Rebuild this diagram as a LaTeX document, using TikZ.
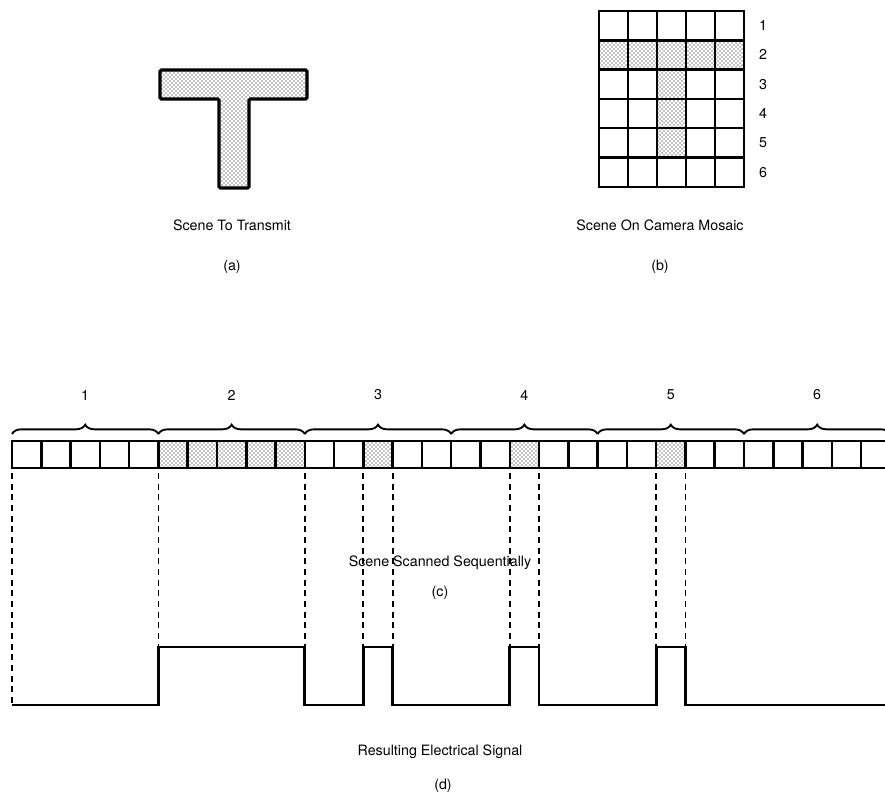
\documentclass[tikz,border=0pt]{standalone}
\usepackage{fontspec}
\setmainfont{TeX Gyre Heros}
\usetikzlibrary{patterns,decorations.pathreplacing}
\tikzset{
  dotfill/.style={pattern=crosshatch dots,pattern color=black},
  cellbox/.style={draw,line width=1.9pt},
  caption/.style={font=\fontsize{10.7}{12}\selectfont},
  guide/.style={line width=1.3pt,dash pattern=on 4.5pt off 3.5pt},
  signal/.style={line width=2pt,line join=miter},
  scanbrace/.style={decorate,decoration={brace,amplitude=7pt},line width=1.4pt}
}

\begin{document}
\begin{tikzpicture}[x=0.75pt,y=-0.75pt]
 \useasboundingbox (0,0) rectangle (885,799);
 \clip (0,0) rectangle (885,799);
 % (a) the letter T
 \draw[dotfill,line width=2.4pt,rounded corners=1pt]
  (160,70) -- (307,70) -- (307,99) -- (249,99) -- (249,188)
  -- (219,188) -- (219,99) -- (160,99) -- cycle;
 \node[caption] (capa) at (232,225) {Scene To Transmit};
 \node[caption] (taga) at (232,267) {(a)};
 % (b) camera mosaic
 \foreach \r/\c in {2/1,2/2,2/3,2/4,2/5,3/3,4/3,5/3}
  \fill[dotfill] ({599+(\c-1)*29},{11+(\r-1)*29.3}) rectangle ++(29,29.3);
 \foreach \r in {1,...,6}{
  \foreach \c in {1,...,5}
   \draw[cellbox] ({599+(\c-1)*29},{11+(\r-1)*29.3}) rectangle ++(29,29.3);
  \node[caption] (row\r) at (763,{25.6+(\r-1)*29.3}) {\r};
 }
 \node[caption] (capb) at (660,225) {Scene On Camera Mosaic};
 \node[caption] (tagb) at (660,267) {(b)};
 % (c) sequential strip
 \foreach \i in {5,6,7,8,9,12,17,22}
  \fill[dotfill] ({12+\i*29.28},441) rectangle ++(29.28,27);
 \foreach \i in {0,...,29}
  \draw[cellbox] ({12+\i*29.28},441) rectangle ++(29.28,27);
 \foreach \k in {1,...,6}{
  \draw[scanbrace] ({12+(\k-1)*146.4},434) -- ({12+\k*146.4},434);
  \node[caption] (grp\k) at ({12+(\k-0.5)*146.4},395) {\k};
 }
 \node[caption] (capc) at (440,563) {Scene Scanned Sequentially};
 \node[caption] (tagc) at (440,593) {(c)};
 % (d) signal and guide lines
 \foreach \n/\lv in {0/705,5/647,10/647,12/647,13/647,17/647,18/647,22/647,23/647}{
  \coordinate (top\n) at ({12+\n*29.28},473);
  \coordinate (bot\n) at ({12+\n*29.28},\lv);
  \draw[guide] (top\n) -- (bot\n);
 }
 \draw[signal] (bot0) -- (bot5 |- bot0) -- (bot5) -- (bot10)
  -- (bot10 |- bot0) -- (bot12 |- bot0) -- (bot12) -- (bot13)
  -- (bot13 |- bot0) -- (bot17 |- bot0) -- (bot17) -- (bot18)
  -- (bot18 |- bot0) -- (bot22 |- bot0) -- (bot22) -- (bot23)
  -- (bot23 |- bot0) -- (890,705);
 \node[caption] (capd) at (440,752) {Resulting Electrical Signal};
 \node[caption] (tagd) at (443,786) {(d)};
\end{tikzpicture}
\end{document}
